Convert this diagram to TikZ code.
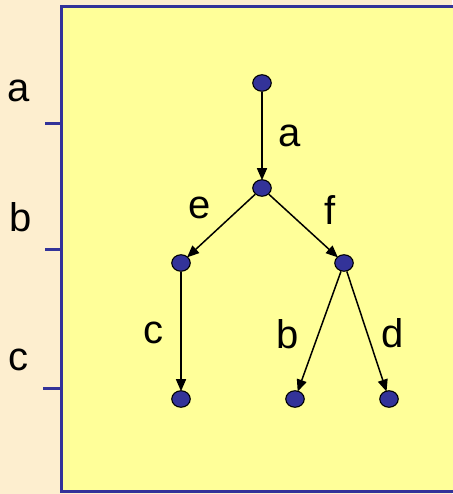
\documentclass[tikz,border=0pt]{standalone}
\usepackage{fontspec}
\setmainfont{Liberation Sans}
\usetikzlibrary{arrows.meta,shapes.geometric}
\definecolor{outerbg}{HTML}{FDEECF}
\definecolor{innerbg}{HTML}{FFFF99}
\definecolor{navy}{HTML}{333399}
\tikzset{
  dot/.style={ellipse,draw=black,line width=1.1pt,fill=navy,minimum width=18.5pt,minimum height=16.5pt,inner sep=0pt},
  edge/.style={draw=black,line width=1.5pt,-{Triangle[length=12pt,width=10pt]},shorten >=-1pt},
  lbl/.style={inner sep=0pt,font=\fontsize{40}{46}\selectfont},
  tick/.style={draw=navy,line width=3.5pt}
}
\begin{document}
\begin{tikzpicture}[x=1pt,y=-1pt]
\useasboundingbox (0,0) rectangle (452,494);
\fill[outerbg] (0,0) rectangle (452,494);
\filldraw[fill=innerbg,draw=navy,line width=3.5pt] (61.5,6.5) rectangle (470,491.5);
\coordinate (t1a) at (45,123.5); \coordinate (t1b) at (61.5,123.5);
\coordinate (t2a) at (45,249.5); \coordinate (t2b) at (61.5,249.5);
\coordinate (t3a) at (43,388.5); \coordinate (t3b) at (61.5,388.5);
\draw[tick] (t1a) -- (t1b);
\draw[tick] (t2a) -- (t2b);
\draw[tick] (t3a) -- (t3b);
\node[lbl] (la) at (19,91) {a};
\node[lbl] (lb) at (21,217) {b};
\node[lbl] (lc) at (19,360) {c};
\node[dot] (n0) at (262,83) {};
\node[dot] (n1) at (262,188) {};
\node[dot] (n2) at (181,263) {};
\node[dot] (n3) at (344,263) {};
\node[dot] (n4) at (181,399) {};
\node[dot] (n5) at (295,399) {};
\node[dot] (n6) at (389,399) {};
\draw[edge] (n0) -- (n1);
\draw[edge] (n1) -- (n2);
\draw[edge] (n1) -- (n3);
\draw[edge] (n2) -- (n4);
\draw[edge] (n3) -- (n5);
\draw[edge] (n3) -- (n6);
\node[lbl] (ea) at (290,136) {a};
\node[lbl] (ee) at (200,208) {e};
\node[lbl] (ef) at (330,210) {f};
\node[lbl] (ec) at (153,333) {c};
\node[lbl] (eb) at (288,334) {b};
\node[lbl] (ed) at (393,333) {d};
\end{tikzpicture}
\end{document}
